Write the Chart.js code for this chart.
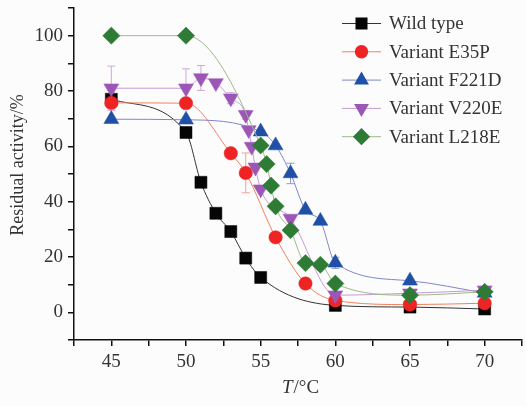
<!DOCTYPE html>
<html>
<head>
<meta charset="utf-8">
<script src="https://cdn.jsdelivr.net/npm/chart.js@4.4.0/dist/chart.umd.min.js"></script>
<style>
  html, body { margin: 0; padding: 0; background: #fcfcfc; }
  #wrap { position: relative; width: 526px; height: 406px; }
</style>
</head>
<body>
<div id="wrap"><canvas id="chart" width="526" height="406"></canvas></div>
<script>
// Data
const seriesNames = ['Wild type', 'Variant E35P', 'Variant F221D', 'Variant V220E', 'Variant L218E'];

const wildT = [45, 50, 51, 52, 53, 54, 55, 60, 65, 70];
const wildV = [77, 65, 47, 35.8, 29.2, 19.6, 12.6, 2.5, 1.9, 1.2];
const wildErr = [1.5, null, null, null, null, null, null, null, null, null];

const e35pT = [45, 50, 53, 54, 56, 58, 60, 65, 70];
const e35pV = [75.7, 75.6, 57.5, 50.4, 27.1, 10.4, 4.3, 2.8, 3.3];
const e35pErr = [1.5, null, null, 7.2, null, null, null, null, null];

const f221dT = [45, 50, 55, 56, 57, 58, 59, 60, 65, 70];
const f221dV = [69.8, 69.6, 65.3, 60.3, 50.2, 37, 33, 17.9, 11.4, 7];
const f221dErr = [null, null, null, null, 3.7, null, null, 2, null, null];

const v220eT = [45, 50, 51, 52, 53, 54, 54.2, 54.4, 54.65, 55, 57, 60, 65, 70];
const v220eV = [81, 81, 84.7, 82.9, 77.4, 71.4, 65.9, 59.9, 52.4, 44.5, 33.9, 6.2, 6.9, 8];
const v220eErr = [8, 7, 4.5, null, 2, 1.6, null, null, null, null, null, null, null, null];

const l218eT = [45, 50, 55, 55.4, 55.7, 56, 57, 58, 59, 60, 65, 70];
const l218eV = [100, 100, 60.3, 53.6, 45.8, 38.3, 29.7, 17.8, 17.2, 10.4, 6.2, 7.4];
const l218eErr = [null, null, null, null, null, null, null, null, null, null, null, null];

const xLabelTicks = [45, 50, 55, 60, 65, 70];
const yLabelTicks = [0, 20, 40, 60, 80, 100];

// Style per series
const markerColors = ['#050505', '#ee2424', '#1f4fa6', '#9c57b6', '#2e7b36'];
const lineColors = ['#333333', '#f2805e', '#7f86c9', '#c79ad6', '#9db889'];
const errColors = ['#888888', '#f2a090', '#8f98d0', '#cfa8dc', '#9db889'];
const pointStyles = ['rect', 'circle', 'triangle', 'triangle', 'rectRot'];
const pointRotations = [0, 0, 0, 180, 0];
const pointRadii = [8.5, 6.7, 8.6, 8.6, 8.6];

const seriesT = [wildT, e35pT, f221dT, v220eT, l218eT];
const seriesV = [wildV, e35pV, f221dV, v220eV, l218eV];
const seriesErr = [wildErr, e35pErr, f221dErr, v220eErr, l218eErr];

const serif = "'Liberation Serif', 'DejaVu Serif', serif";

const datasets = seriesNames.map((name, i) => ({
    label: name,
    data: seriesT[i].map((t, k) => ({ x: t, y: seriesV[i][k] })),
    borderColor: lineColors[i],
    borderWidth: 1,
    cubicInterpolationMode: 'monotone',
    pointStyle: pointStyles[i],
    rotation: pointRotations[i],
    pointRadius: pointRadii[i],
    pointBackgroundColor: markerColors[i],
    pointBorderColor: markerColors[i],
    pointBorderWidth: 0.5,
    order: 5 - i
}));

// error bars, drawn under the markers
const errorBars = {
    id: 'errorBars',
    beforeDatasetsDraw(chart) {
        const ctx = chart.ctx;
        const xs = chart.scales.x, ys = chart.scales.y;
        ctx.save();
        ctx.lineWidth = 1;
        seriesErr.forEach((errs, i) => {
            ctx.strokeStyle = errColors[i];
            errs.forEach((e, k) => {
                if (e == null) return;
                const px = xs.getPixelForValue(seriesT[i][k]);
                const top = ys.getPixelForValue(seriesV[i][k] + e);
                const bot = ys.getPixelForValue(seriesV[i][k] - e);
                ctx.beginPath();
                ctx.moveTo(px, top); ctx.lineTo(px, bot);
                ctx.moveTo(px - 4, top); ctx.lineTo(px + 4, top);
                ctx.moveTo(px - 4, bot); ctx.lineTo(px + 4, bot);
                ctx.stroke();
            });
        });
        ctx.restore();
    }
};

// legend and axis titles
const decorations = {
    id: 'decorations',
    afterDraw(chart) {
        const ctx = chart.ctx;
        ctx.save();
        ctx.font = '19px ' + serif;
        ctx.textBaseline = 'middle';
        seriesNames.forEach((name, i) => {
            const y = 23.5 + i * 28.3;
            ctx.strokeStyle = lineColors[i];
            ctx.lineWidth = 1;
            ctx.beginPath();
            ctx.moveTo(342, y); ctx.lineTo(381, y);
            ctx.stroke();
            ctx.fillStyle = markerColors[i];
            ctx.strokeStyle = markerColors[i];
            ctx.lineWidth = 0.5;
            Chart.helpers.drawPoint(ctx, {
                pointStyle: pointStyles[i],
                rotation: pointRotations[i],
                radius: pointRadii[i]
            }, 361.5, y);
            ctx.fillStyle = '#333';
            ctx.textAlign = 'left';
            ctx.fillText(name, 389, y + 1);
        });

        // y title
        ctx.save();
        ctx.translate(18, 165);
        ctx.rotate(-Math.PI / 2);
        ctx.font = '18px ' + serif;
        ctx.textAlign = 'center';
        ctx.fillStyle = '#333';
        ctx.fillText('Residual activity/%', 0, 0);
        ctx.restore();

        // x title: italic T then /°C
        const cx = 300, cy = 388;
        ctx.font = 'italic 19px ' + serif;
        const wT = ctx.measureText('T').width;
        ctx.font = '19px ' + serif;
        const wRest = ctx.measureText('/°C').width;
        const x0 = cx - (wT + wRest) / 2;
        ctx.textAlign = 'left';
        ctx.fillStyle = '#333';
        ctx.font = 'italic 19px ' + serif;
        ctx.fillText('T', x0, cy);
        ctx.font = '19px ' + serif;
        ctx.fillText('/°C', x0 + wT + 1, cy);
        ctx.restore();
    }
};

new Chart(document.getElementById('chart'), {
    type: 'line',
    data: { datasets: datasets },
    options: {
        responsive: false,
        animation: false,
        layout: { autoPadding: false, padding: { top: 8, right: 4, left: 0, bottom: 0 } },
        plugins: { legend: { display: false }, tooltip: { enabled: false } },
        scales: {
            x: {
                type: 'linear',
                min: 42.5,
                max: 72.5,
                ticks: {
                    stepSize: 2.5,
                    autoSkip: false,
                    maxRotation: 0,
                    padding: 5,
                    color: '#333',
                    font: { family: serif, size: 19 },
                    callback: function (value) { return xLabelTicks.includes(value) ? String(value) : ''; }
                },
                grid: { drawOnChartArea: false, drawTicks: true, tickLength: 6, color: '#111', lineWidth: 1.5 },
                border: { color: '#111', width: 1.5 },
                afterFit: function (scale) {
                    scale.height = 66;
                    scale.paddingLeft = 0;
                    scale.paddingRight = 0;
                }
            },
            y: {
                type: 'linear',
                min: -10,
                max: 110,
                ticks: {
                    stepSize: 10,
                    autoSkip: false,
                    padding: 5,
                    color: '#333',
                    font: { family: serif, size: 19 },
                    callback: function (value) { return yLabelTicks.includes(value) ? String(value) : ''; }
                },
                grid: { drawOnChartArea: false, drawTicks: true, tickLength: 6, color: '#111', lineWidth: 1.5 },
                border: { color: '#111', width: 1.5 },
                afterFit: function (scale) {
                    scale.width = 74;
                    scale.paddingTop = 0;
                    scale.paddingBottom = 0;
                }
            }
        }
    },
    plugins: [errorBars, decorations]
});
</script>
</body>
</html>
